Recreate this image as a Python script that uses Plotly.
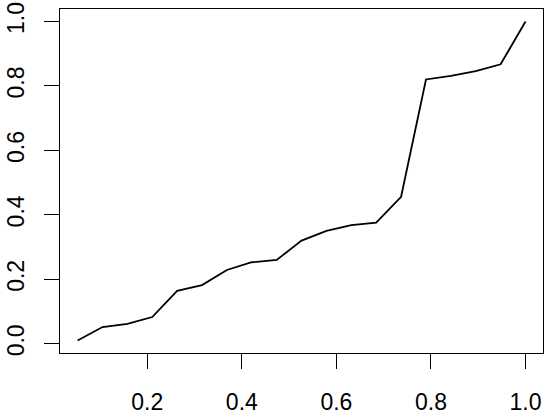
import plotly.graph_objects as go

# values (19 evenly spaced points)
x_vals = [i / 19 for i in range(1, 20)]
y_vals = [0.010, 0.052, 0.062, 0.083, 0.164, 0.182, 0.229, 0.253, 0.260, 0.320,
          0.350, 0.368, 0.376, 0.456, 0.820, 0.831, 0.846, 0.867, 1.000]

x_ticks = [0.2, 0.4, 0.6, 0.8, 1.0]
y_ticks = [0.0, 0.2, 0.4, 0.6, 0.8, 1.0]

fig = go.Figure()
fig.add_trace(go.Scatter(x=x_vals, y=y_vals, mode="lines",
                         line=dict(color="black", width=1.8), showlegend=False))

axis_style = dict(showline=True, linecolor="black", linewidth=1.3, mirror=True,
                  ticks="outside", ticklen=15, tickwidth=1.3, tickcolor="black",
                  showgrid=False, zeroline=False, tickformat=".1f",
                  automargin=False, ticklabeloverflow="allow")

fig.update_xaxes(range=[0.0154, 1.037], tickvals=x_ticks, ticklabelstandoff=13, **axis_style)
fig.update_yaxes(range=[-0.0286, 1.0386], tickvals=y_ticks, tickangle=-90,
                 ticklabelstandoff=11, **axis_style)

fig.update_layout(
    width=550, height=415,
    margin=dict(l=60, r=7, t=9, b=62),
    plot_bgcolor="white", paper_bgcolor="white",
    font=dict(family="Liberation Sans, Arial", size=23, color="black"),
)

# drop the default page margin so the figure sits at the window's corner
fig.write_html("out.html", config={"displayModeBar": False},
               post_script="document.body.style.margin = '0';")
